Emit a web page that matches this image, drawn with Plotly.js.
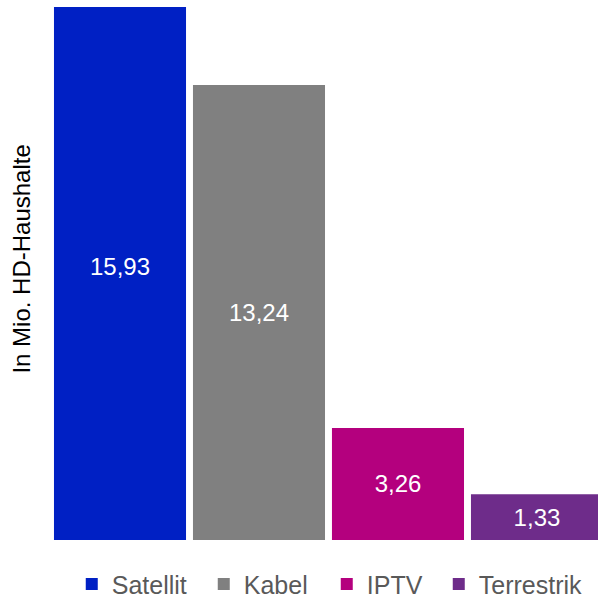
<!DOCTYPE html>
<html>
<head>
<meta charset="utf-8">
<script src="https://cdn.plot.ly/plotly-3.0.1.min.js"></script>
<style>html,body{margin:0;padding:0;background:#fff;}#chart{width:598px;height:601px;}</style>
</head>
<body>
<div id="chart"></div>
<script>
const categories = ["Satellit", "Kabel", "IPTV", "Terrestrik"];
const values = [15.93, 13.24, 3.26, 1.33];
const colors = ["#0020C4", "#808080", "#B4007E", "#6E2C8A"];
const legendWidths = [87, 78, 67, 110];
const yTitle = "In Mio. HD-Haushalte";

const traces = categories.map((c, i) => ({
  type: "bar",
  name: c,
  x: [c],
  y: [values[i]],
  marker: {color: colors[i]},
  legendwidth: legendWidths[i],
  text: [values[i].toFixed(2).replace(".", ",")],
  textposition: "inside",
  insidetextanchor: "middle",
  textangle: 0,
  textfont: {family: "Liberation Sans, Arial, sans-serif", size: 24, color: "#ffffff"},
  hoverinfo: "skip"
}));

const layout = {
  width: 598, height: 601,
  margin: {l: 50, r: 0, t: 7, b: 61},
  paper_bgcolor: "#ffffff", plot_bgcolor: "#ffffff",
  font: {family: "Liberation Sans, Arial, sans-serif", size: 24, color: "#000000"},
  barmode: "overlay",
  bargap: 0.05,
  showlegend: true,
  legend: {
    orientation: "h",
    xref: "container", yref: "container",
    x: 0.12, xanchor: "left",
    y: 0.028, yanchor: "middle",
    font: {size: 25, color: "#595959"},
    itemclick: false
  },
  xaxis: {
    type: "category",
    range: [-0.5036, 3.439],
    showticklabels: false, showgrid: false, zeroline: false, showline: false, ticks: ""
  },
  yaxis: {
    range: [0, 15.51],
    showticklabels: false, showgrid: false, zeroline: false, showline: false, ticks: ""
  },
  annotations: [{
    text: yTitle,
    xref: "paper", yref: "paper",
    x: -0.052, y: 0.527,
    xanchor: "center", yanchor: "middle",
    textangle: -90,
    showarrow: false,
    font: {size: 24, color: "#000000"}
  }]
};

Plotly.newPlot("chart", traces, layout, {displayModeBar: false, staticPlot: true});
</script>
</body>
</html>
